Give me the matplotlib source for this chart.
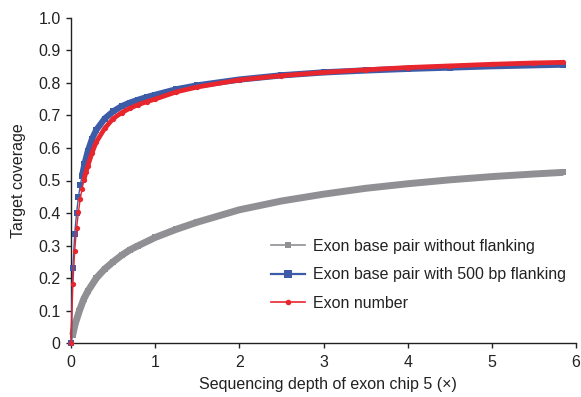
import matplotlib
matplotlib.use("Agg")
import matplotlib.pyplot as plt
from matplotlib.lines import Line2D
import numpy as np

plt.rcParams['font.family'] = ['Liberation Sans', 'DejaVu Sans']

# ---- data ----
gray_x = [0, 0.02, 0.05, 0.1, 0.15, 0.2, 0.3, 0.4, 0.5, 0.6, 0.7, 0.8, 1.0, 1.25, 1.5,
          2.0, 2.5, 3.0, 3.5, 4.0, 4.5, 5.0, 5.5, 5.85]
gray_y = [0, 0.025, 0.06, 0.1, 0.135, 0.16, 0.2, 0.228, 0.25, 0.27, 0.287, 0.3, 0.325, 0.35, 0.372,
          0.41, 0.437, 0.458, 0.476, 0.49, 0.502, 0.512, 0.52, 0.525]

blue_x = [0, 0.022, 0.044, 0.066, 0.088, 0.11, 0.132, 0.16, 0.2, 0.25, 0.3, 0.4, 0.5, 0.6, 0.7,
          0.8, 0.9, 1.0, 1.25, 1.5, 2.0, 2.5, 3.0, 3.5, 4.0, 4.5, 5.0, 5.5, 5.85]
blue_y = [0, 0.232, 0.336, 0.40, 0.448, 0.485, 0.515, 0.55, 0.59, 0.628, 0.655, 0.69, 0.712, 0.728, 0.739,
          0.748, 0.756, 0.763, 0.78, 0.792, 0.81, 0.823, 0.832, 0.838, 0.843, 0.847, 0.851, 0.854, 0.856]

red_x = [0, 0.022, 0.044, 0.066, 0.088, 0.11, 0.132, 0.154, 0.176, 0.2, 0.25, 0.3, 0.4, 0.5, 0.6,
         0.7, 0.8, 0.9, 1.0, 1.25, 1.5, 2.0, 2.5, 3.0, 3.5, 4.0, 4.5, 5.0, 5.5, 5.85]
red_y = [0, 0.182, 0.284, 0.353, 0.402, 0.444, 0.475, 0.502, 0.525, 0.545, 0.585, 0.618, 0.66, 0.69, 0.708,
         0.722, 0.733, 0.742, 0.75, 0.772, 0.787, 0.809, 0.822, 0.832, 0.84, 0.847, 0.852, 0.857, 0.861, 0.863]

labels = ["Exon base pair without flanking",
          "Exon base pair with 500 bp flanking",
          "Exon number"]
x_ticks = [0, 1, 2, 3, 4, 5, 6]
y_ticks = [0, 0.1, 0.2, 0.3, 0.4, 0.5, 0.6, 0.7, 0.8, 0.9, 1.0]
y_ticklabels = ["0", "0.1", "0.2", "0.3", "0.4", "0.5", "0.6", "0.7", "0.8", "0.9", "1.0"]

GRAY = "#909094"
BLUE = "#3c5ca8"
RED = "#e8262e"
TXT = '#222222'
FS = 11.5

fig = plt.figure(figsize=(5.81, 3.97), dpi=100)
ax = fig.add_axes([71/581, 1-343.3/397, 505/581, 325.6/397])

def draw(xs, ys, color, marker, ms, band_lw, band_from, label, z):
    xs = np.asarray(xs); ys = np.asarray(ys)
    # dense band where the original markers overlap
    ax.plot(xs[band_from:], ys[band_from:], color=color, lw=band_lw,
            solid_capstyle='butt', solid_joinstyle='round', zorder=z, clip_on=False)
    ax.plot(xs, ys, color=color, lw=1.0, marker=marker, ms=ms, mfc=color, mec=color,
            mew=0, zorder=z + 0.1, clip_on=False, label=label)

draw(gray_x, gray_y, GRAY, 's', 5.0, 5.0, 1, labels[0], 2)
draw(blue_x, blue_y, BLUE, 's', 4.6, 4.5, 6, labels[1], 3)
draw(red_x, red_y, RED, 'o', 3.8, 3.4, 7, labels[2], 4)

ax.set_xlim(0, 6)
ax.set_ylim(0, 1.0)
ax.set_xticks(x_ticks)
ax.set_xticklabels([str(t) for t in x_ticks])
ax.set_yticks(y_ticks)
ax.set_yticklabels(y_ticklabels)
for s in ['top', 'right']:
    ax.spines[s].set_visible(False)
for s in ['left', 'bottom']:
    ax.spines[s].set_linewidth(1.0)
    ax.spines[s].set_color(TXT)
ax.tick_params(axis='both', direction='out', length=3.5, width=1.0, labelsize=FS,
               color=TXT, labelcolor=TXT)
ax.tick_params(axis='x', pad=5)
ax.tick_params(axis='y', pad=4)

ax.set_xlabel("Sequencing depth of exon chip 5 (×)", fontsize=FS, color=TXT, ha='left')
ax.xaxis.set_label_coords((199-71)/505, -(377-343.3)/325.6)
ax.set_ylabel("Target coverage", fontsize=FS, color=TXT)
ax.yaxis.set_label_coords(-0.089, 0.5)

handles = [Line2D([], [], color=GRAY, lw=1.2, marker='s', ms=5, mew=0),
           Line2D([], [], color=BLUE, lw=1.6, marker='s', ms=5.5, mew=0),
           Line2D([], [], color=RED, lw=1.2, marker='o', ms=4, mew=0)]
leg = fig.legend(handles, labels, loc='upper left', bbox_to_anchor=(271/581, 1-238.5/397),
                 frameon=False, fontsize=FS, handlelength=2.1, handletextpad=0.5,
                 labelspacing=0.86, borderpad=0, borderaxespad=0)
for t in leg.get_texts():
    t.set_color(TXT)

fig.savefig("out.png", dpi=100)
